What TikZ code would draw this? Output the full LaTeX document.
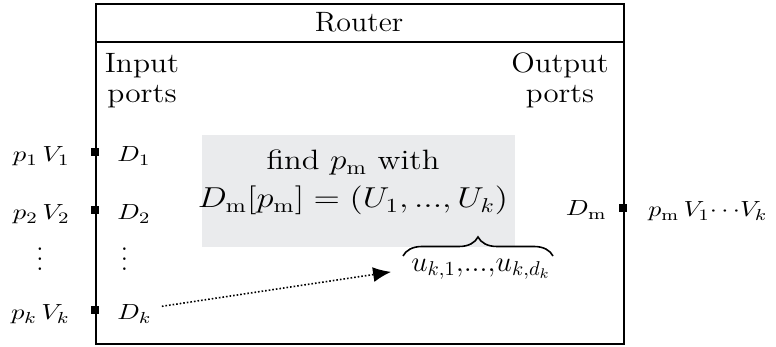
\documentclass[tikz,border=0pt]{standalone}
\usepackage{graphicx}
\usetikzlibrary{decorations.pathreplacing,arrows.meta,calc}
\definecolor{graybox}{RGB}{234,235,237}
\newcommand{\hstretch}[2]{\scalebox{#1}[1]{#2}}
\begin{document}
\begin{tikzpicture}[x=0.5pt,y=-0.5pt,
  big/.style={font=\fontsize{14}{15}\selectfont, inner sep=0pt},
  lbl/.style={font=\fontsize{11}{13}\selectfont, inner sep=0pt},
  port/.style={fill=black, minimum size=4pt, inner sep=0pt},
  frame/.style={line width=1pt}]
\useasboundingbox (0,0) rectangle (776,347);
% router frame
\node[draw, frame, minimum width=264pt, minimum height=170pt, anchor=north west, inner sep=0pt] (router) at (95,3) {};
\draw[frame] ($(router.north west)+(0,39)$) -- ($(router.north east)+(0,39)$);
\node[big] (title) at (359,22) {\hstretch{1.07}{Router}};
\node[big, align=center, anchor=base] (inp) at (142,103) {\hstretch{1.12}{Input}\\\hstretch{1.12}{ports}};
\node[big, align=center, anchor=base] (outp) at (560,103) {\hstretch{1.1}{Output}\\\hstretch{1.1}{ports}};
% grey box
\node[fill=graybox, minimum width=156.5pt, minimum height=56pt, anchor=north west, inner sep=0pt] (grey) at (202,135) {};
\node[font=\fontsize{14}{19}\selectfont, align=center, anchor=base, inner sep=0pt] (find) at (353,208)
  {\hstretch{1.16}{find $p_{\mathrm{m}}$ with}\\ \hstretch{1.2}{$D_{\mathrm{m}}[p_{\mathrm{m}}] = (U_1, ..., U_k)$}};
% brace
\coordinate (b1) at (403,256);
\coordinate (b2) at (553,256);
\draw[decorate, decoration={brace, amplitude=9.5pt}, line width=0.8pt] (b1) -- (b2);
\node[big, anchor=base] (ulist) at (481,271) {\hstretch{1.02}{$u_{k,1}{,}...{,}u_{k,d_k}$}};
% input ports
\node[port] (s1) at (95,152) {};
\node[port] (s2) at (95,210) {};
\node[port] (sk) at (95,310) {};
\node[lbl, anchor=base east] (in1) at (70,162) {\hstretch{1.22}{$p_1\,V_1$}};
\node[lbl, anchor=base east] (in2) at (70,220) {\hstretch{1.22}{$p_2\,V_2$}};
\node[lbl, anchor=base east] (ink) at (70,320) {\hstretch{1.22}{$p_k\,V_k$}};
\node[lbl, anchor=base west] (D1) at (117,162) {\hstretch{1.2}{$D_1$}};
\node[lbl, anchor=base west] (D2) at (117,220) {\hstretch{1.2}{$D_2$}};
\node[lbl, anchor=base west] (Dk) at (117,320) {\hstretch{1.2}{$D_k$}};
\node[lbl, anchor=south] (vd1) at (40,271) {\scalebox{1.2}[1.25]{$\vdots$}};
\node[lbl, anchor=south] (vd2) at (124.5,271) {\scalebox{1.2}[1.25]{$\vdots$}};
% output port
\node[port] (sm) at (623,208.5) {};
\node[lbl, anchor=base east] (Dm) at (607,216) {\hstretch{1.22}{$D_{\mathrm{m}}$}};
\node[lbl, anchor=base west] (outm) at (648,217) {\hstretch{1.18}{$p_{\mathrm{m}}\,V_1{\cdots}V_k$}};
% arrow
\draw[densely dotted, line width=0.8pt, -{Latex[length=9pt,width=7.5pt]}, shorten >=10pt]
  ([xshift=5pt,yshift=4pt]Dk.east) -- (ulist.west);
\end{tikzpicture}
\end{document}
